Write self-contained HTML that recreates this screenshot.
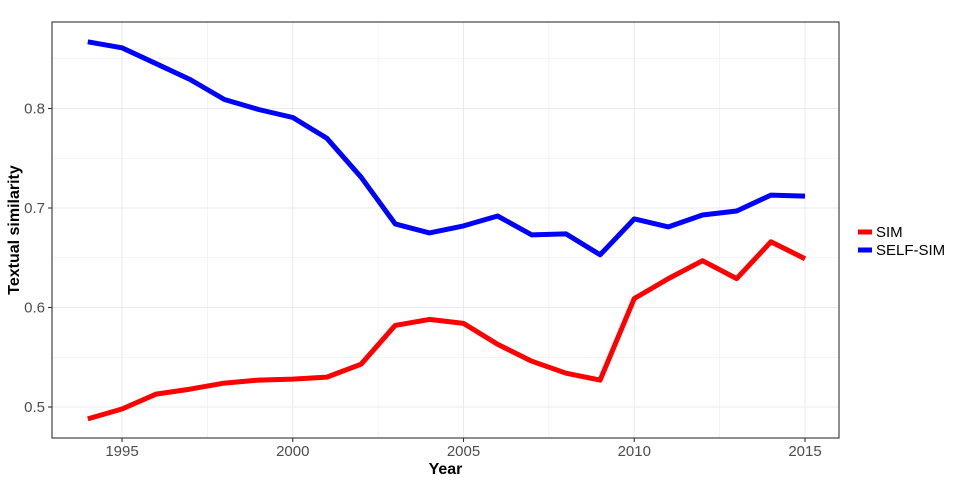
<!DOCTYPE html>
<html><head><meta charset="utf-8"><style>
body{margin:0;background:#fff;}
svg{display:block;font-family:"Liberation Sans",Arial,sans-serif;}
</style></head><body>
<svg id="chart" width="960" height="480"></svg>
<script>
const years=[1994,1995,1996,1997,1998,1999,2000,2001,2002,2003,2004,2005,2006,2007,2008,2009,2010,2011,2012,2013,2014,2015];
const simValues=[0.488,0.498,0.513,0.518,0.524,0.527,0.528,0.530,0.543,0.582,0.588,0.584,0.563,0.546,0.534,0.527,0.609,0.629,0.647,0.629,0.666,0.649];
const selfSimValues=[0.867,0.861,0.845,0.829,0.809,0.799,0.791,0.770,0.731,0.684,0.675,0.682,0.692,0.673,0.674,0.653,0.689,0.681,0.693,0.697,0.713,0.712];
const xTicks=[1995,2000,2005,2010,2015];
const yTicks=[0.5,0.6,0.7,0.8];
const seriesNames=["SIM","SELF-SIM"];

const NS="http://www.w3.org/2000/svg";
const svg=document.getElementById('chart');
const L=52,R=839,T=22,B=438;
function xs(v){return 122+(v-1995)*(805-122)/20;}
function ys(v){return 407-(v-0.5)*995;}
function el(tag,attrs,parent){const e=document.createElementNS(NS,tag);for(const k in attrs)e.setAttribute(k,attrs[k]);(parent||svg).appendChild(e);return e;}

const grid=el('g',{});


for(let v=0.45;v<=0.9;v+=0.05){const y=ys(v);if(y<T||y>B)continue;const major=Math.abs(v*10-Math.round(v*10))<1e-6;
 el('line',{x1:L,x2:R,y1:y,y2:y,stroke:'#ebebeb','stroke-width':major?1.1:0.55},grid);}
for(let v=1992.5;v<=2017.5;v+=2.5){const x=xs(v);if(x<L||x>R)continue;const major=v%5===0;
 el('line',{x1:x,x2:x,y1:T,y2:B,stroke:'#ebebeb','stroke-width':major?1.1:0.55},grid);}

const seriesData=[simValues,selfSimValues];
const colors=['#ff0000','#0000ff'];
seriesData.forEach((vals,i)=>{
 const d=vals.map((v,j)=>(j?'L':'M')+xs(years[j]).toFixed(1)+','+ys(v).toFixed(1)).join(' ');
 const p=el('path',{d:d,fill:'none',stroke:colors[i],'stroke-width':5,'stroke-linejoin':'round','stroke-linecap':'butt'});
 
 
});
const frame=el('rect',{x:L,y:T,width:R-L,height:B-T,fill:'none',stroke:'#333','stroke-width':1.1});



xTicks.forEach(v=>{const x=xs(v);
 el('line',{x1:x,x2:x,y1:B,y2:B+4,stroke:'#333','stroke-width':1.1});
 const t=el('text',{x:x,y:B+18,'text-anchor':'middle','font-size':15,fill:'#4d4d4d'});t.textContent=v;
 
 
});
yTicks.forEach(v=>{const y=ys(v);
 el('line',{x1:L-4,x2:L,y1:y,y2:y,stroke:'#333','stroke-width':1.1});
 const t=el('text',{x:L-7,y:y+5,'text-anchor':'end','font-size':15,fill:'#4d4d4d'});t.textContent=v.toFixed(1);
 
 
});
const xt=el('text',{x:(L+R)/2,y:474,'text-anchor':'middle','font-size':16,'font-weight':'bold',fill:'#000'});xt.textContent='Year';


const yt=el('text',{x:0,y:0,transform:'translate(19,230) rotate(-90)','text-anchor':'middle','font-size':16,'font-weight':'bold',fill:'#000'});yt.textContent='Textual similarity';



seriesNames.forEach((n,i)=>{const y=232+i*18;
 const g=el('g',{});
 
 
 el('line',{x1:858,x2:872,y1:y,y2:y,stroke:colors[i],'stroke-width':5},g);
 const t=el('text',{x:876,y:y+5,'font-size':15,fill:'#000'},g);t.textContent=n;
});
</script>
</body></html>
